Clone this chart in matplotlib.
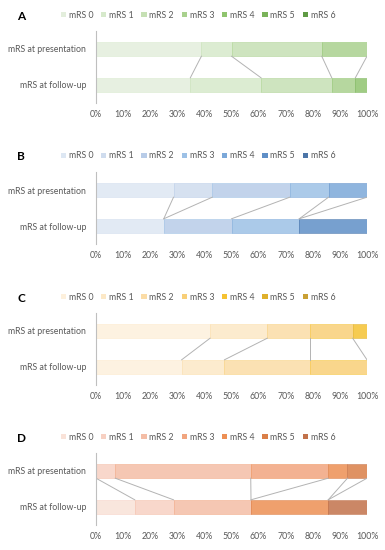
import numpy as np
import matplotlib
matplotlib.use('Agg')
import matplotlib.pyplot as plt
from matplotlib.patches import Patch

plt.rcParams['font.family'] = ['Lato', 'DejaVu Sans']

# mRS distribution (%) per panel: at presentation / at follow-up
categories = ['mRS 0', 'mRS 1', 'mRS 2', 'mRS 3', 'mRS 4', 'mRS 5', 'mRS 6']
rows = ['mRS at follow-up', 'mRS at presentation']
ticks = list(range(0, 101, 10))

a_pres = [38.9, 11.1, 33.3, 16.7, 0, 0, 0]
a_fu = [34.8, 26.1, 26.1, 8.7, 4.3, 0, 0]
b_pres = [28.6, 14.3, 28.6, 14.3, 14.2, 0, 0]
b_fu = [25.0, 0, 25.0, 25.0, 0, 25.0, 0]
c_pres = [42.1, 21.1, 15.7, 15.8, 5.3, 0, 0]
c_fu = [31.6, 15.8, 31.5, 21.1, 0, 0, 0]
d_pres = [0, 7.1, 50.0, 28.6, 7.1, 7.2, 0]
d_fu = [14.3, 14.3, 28.6, 0, 28.5, 0, 14.3]

green = ['#e3eedc', '#d6e9cb', '#c6e0b4', '#a9d18e', '#8fc46e', '#7ab35a', '#5f9a44']
blue = ['#dde7f3', '#cfdcee', '#b8cce8', '#9dc1e6', '#7ba8d9', '#5f8fc7', '#4c75a8']
gold = ['#fdf0dc', '#fce8c6', '#fbdca6', '#f8cf78', '#f5c232', '#dfb02b', '#c9a034']
orange = ['#f9e2d8', '#f7d0c2', '#f4bda6', '#f1a57f', '#ed8f54', '#da7f48', '#c2724b']

panels = [
    ('A', a_pres, a_fu, green),
    ('B', b_pres, b_fu, blue),
    ('C', c_pres, c_fu, gold),
    ('D', d_pres, d_fu, orange),
]

W, H = 385, 550
fig = plt.figure(figsize=(W / 100, H / 100), dpi=100)

offsets = [0, 141, 282, 422]
bar_h = 0.4
txt = '#595959'

for (letter, pres, fu, cols), off in zip(panels, offsets):
    top = off + 31
    bot = off + 103
    ax = fig.add_axes([96 / W, 1 - bot / H, 271 / W, (bot - top) / H])
    left_p, left_f = 0.0, 0.0
    cum_p, cum_f = [], []
    for k in range(len(categories)):
        ax.barh(1, pres[k], left=left_p, height=bar_h, color=cols[k], alpha=0.85,
                edgecolor=cols[min(k + 1, 6)], linewidth=0.4)
        ax.barh(0, fu[k], left=left_f, height=bar_h, color=cols[k], alpha=0.85,
                edgecolor=cols[min(k + 1, 6)], linewidth=0.4)
        left_p += pres[k]
        left_f += fu[k]
        cum_p.append(left_p)
        cum_f.append(left_f)
    # series lines between the two bars
    for k in range(len(categories) - 1):
        ax.plot([cum_p[k], cum_f[k]], [1 - bar_h / 2, bar_h / 2],
                color='#b3b3b3', lw=0.7, zorder=1)
    ax.set_xlim(0, 100)
    ax.set_ylim(-0.5, 1.5)
    ax.set_yticks([0, 1])
    ax.set_yticklabels(rows)
    ax.set_xticks(ticks)
    ax.set_xticklabels([f'{t}%' for t in ticks])
    ax.tick_params(axis='both', length=0, labelsize=6.3, labelcolor=txt)
    ax.tick_params(axis='y', pad=7)
    ax.tick_params(axis='x', pad=5)
    for s in ['top', 'right', 'bottom']:
        ax.spines[s].set_visible(False)
    ax.spines['left'].set_color('#bfbfbf')
    ax.spines['left'].set_linewidth(0.8)

    handles = [Patch(facecolor=c, edgecolor='none') for c in cols]
    fig.legend(handles, categories, loc='center', ncol=7,
               bbox_to_anchor=(198 / W, 1 - (off + 15) / H), frameon=False,
               fontsize=6.3, labelcolor=txt, handlelength=0.6, handleheight=0.6,
               handletextpad=0.3, columnspacing=0.9, borderpad=0)
    fig.text(17 / W, 1 - (off + 16) / H, letter, fontsize=8.5,
             fontweight='bold', ha='left', va='center')

fig.savefig('out.png', dpi=100)
